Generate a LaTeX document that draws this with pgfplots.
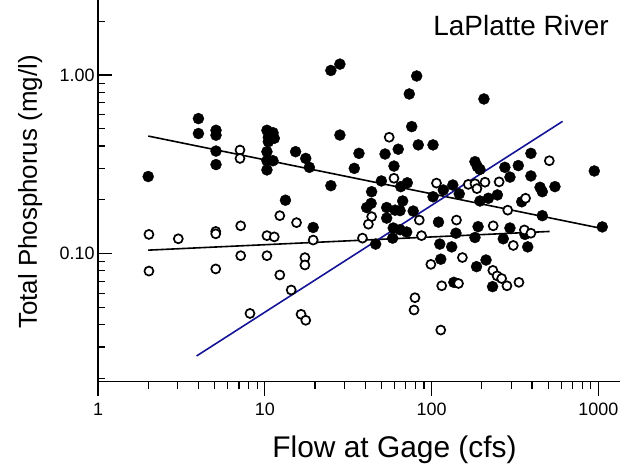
\documentclass[border=0pt]{standalone}
\usepackage{fontspec}
\setmainfont{Liberation Sans}
\usepackage{pgfplots}
\pgfplotsset{compat=1.18}
\usepackage{pgfplotstable}
\definecolor{navyline}{RGB}{20,20,150}

\pgfplotstableread{
x y
2.0 0.27
4.0 0.57
4.0 0.47
5.1 0.49
5.1 0.46
5.1 0.375
5.1 0.315
10.3 0.49
11.2 0.475
10.5 0.448
11.4 0.442
10.5 0.423
10.3 0.372
10.3 0.331
11.2 0.331
10.3 0.294
15.3 0.372
17.6 0.341
18.5 0.304
24.9 1.06
28.2 1.15
28.2 0.461
36.7 0.364
34.4 0.300
24.9 0.240
13.3 0.199
43.7 0.222
50 0.255
81.4 0.987
73.5 0.783
206 0.734
76 0.514
83.2 0.406
102 0.406
63.1 0.384
52.6 0.361
59.5 0.309
65.3 0.237
71.5 0.249
102 0.208
117.6 0.227
134 0.242
146.5 0.216
182 0.327
188 0.307
195 0.296
219 0.204
248 0.213
394 0.364
331 0.311
275 0.304
295 0.268
394 0.272
447 0.235
461 0.222
549 0.237
945 0.290
53.8 0.181
67.1 0.197
60.4 0.175
64.7 0.174
77.6 0.173
53.8 0.158
58.9 0.139
64.7 0.136
70.9 0.132
58.4 0.122
110 0.150
140 0.130
112 0.113
132 0.109
113.5 0.093
186 0.0845
212 0.092
232 0.0653
136 0.069
190 0.1415
182 0.123
195 0.197
461 0.163
1055 0.141
295 0.139
363 0.128
269 0.121
377 0.109
347 0.195
19.5 0.140
40.8 0.181
43.4 0.191
46.2 0.113
}\filleddata

\pgfplotstableread{
x y
7.1 0.38
7.1 0.341
55.7 0.448
59.5 0.264
107 0.248
166 0.244
182 0.246
187 0.231
209 0.251
254 0.252
508 0.331
366 0.204
84.4 0.154
87 0.126
141 0.154
234 0.143
99 0.087
153 0.095
115 0.066
145 0.068
233 0.0805
247 0.075
263 0.0725
283 0.066
334 0.069
79.5 0.0566
78.5 0.0483
113.5 0.0373
286 0.175
360 0.1356
394 0.130
309 0.111
2.02 0.128
3.03 0.121
5.08 0.133
5.08 0.129
7.17 0.143
7.17 0.0973
2.02 0.0798
5.08 0.082
8.15 0.0462
12.3 0.163
15.5 0.149
10.3 0.126
11.4 0.124
19.5 0.119
38.5 0.122
10.3 0.0973
17.4 0.0949
17.4 0.0863
12.3 0.0759
14.4 0.0625
16.5 0.0457
17.6 0.0423
43.7 0.161
41.8 0.146
}\opendata

\begin{document}
\begin{tikzpicture}[x=1bp,y=1bp]
\useasboundingbox (0,0) rectangle (620,472);
\begin{axis}[
  at={(98bp,90.2bp)}, anchor=south west,
  scale only axis, width=522bp, height=381.8bp,
  xmode=log, ymode=log,
  xmin=1, xmax=1348, ymin=0.01914, ymax=2.63,
  axis x line*=bottom, axis y line*=left,
  axis line style={line width=1.4bp, black},
  xtick={1,10,100,1000}, xticklabels={1,10,100,1000},
  minor xtick={2,3,4,5,6,7,8,9,20,30,40,50,60,70,80,90,200,300,400,500,600,700,800,900},
  ytick={0.1,1}, yticklabels={0.10,1.00},
  minor ytick={0.02,0.03,0.04,0.05,0.06,0.07,0.08,0.09,0.2,0.3,0.4,0.5,0.6,0.7,0.8,0.9,2},
  xtick align=outside, ytick align=inside,
  major tick length=14bp, minor tick length=7.5bp,
  every tick/.style={line width=1.2bp, black},
  ticklabel style={font=\fontsize{18}{18}\selectfont},
  xticklabel style={yshift=-4bp},
  xlabel={Flow at Gage (cfs)},
  xlabel style={at={(rel axis cs:0.568,-0.178)}, anchor=center, font=\fontsize{30}{30}\selectfont},
  ylabel={Total Phosphorus (mg/l)},
  ylabel style={at={(rel axis cs:-0.130,0.497)}, anchor=center, font=\fontsize{26}{26}\selectfont},
  clip=false,
]
\addplot[only marks, mark=*, mark size=5.5bp, mark options={fill=black, draw=black}] table {\filleddata};
\addplot[only marks, mark=*, mark size=4.5bp, mark options={fill=white, draw=black, line width=1.7bp}] table {\opendata};
\addplot[black, line width=1.6bp] coordinates {(2,0.455) (1017,0.139)};
\addplot[black, line width=1.6bp] coordinates {(2,0.1045) (510,0.133)};
\addplot[navyline, line width=1.6bp] coordinates {(3.9,0.0267) (610,0.55)};
\node[anchor=east, font=\fontsize{28}{28}\selectfont] at (rel axis cs:0.985,0.932) {LaPlatte River};
\end{axis}
\end{tikzpicture}
\end{document}
